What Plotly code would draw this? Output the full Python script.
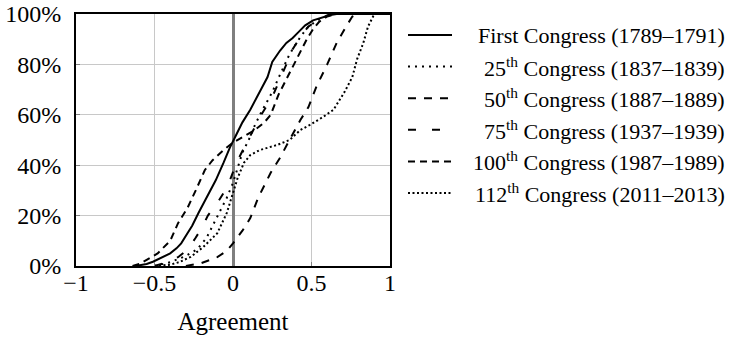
import plotly.graph_objects as go

# ---- data (agreement value, cumulative share in %) ----
first_x = [-0.62, -0.55, -0.51, -0.45, -0.40, -0.36, -0.33, -0.29, -0.26, -0.22, -0.17, -0.11, -0.06, -0.02, 0.02, 0.06, 0.11, 0.17, 0.22, 0.25, 0.30, 0.34, 0.38, 0.42, 0.46, 0.51, 0.56, 0.62, 0.66, 1.0]
first_y = [0, 0.8, 1.7, 3.5, 5, 7, 9, 13, 16, 21, 27, 34, 41, 47, 52, 57, 62, 69, 75, 81, 85.5, 88.5, 90.5, 93, 95.5, 97.5, 98.5, 99.6, 100, 100]

c25_x = [-0.5, -0.4, -0.3, -0.23, -0.17, -0.12, -0.08, -0.04, 0.0, 0.03, 0.06, 0.10, 0.14, 0.18, 0.25, 0.30, 0.36, 0.43, 0.48, 0.55, 0.63, 1.0]
c25_y = [0, 1.5, 4, 6.5, 11, 17, 22, 27, 33, 39, 45, 50, 56, 61, 69, 76, 84, 91, 95, 98, 100, 100]

c50_x = [-0.3, -0.2, -0.1, -0.04, 0.0, 0.06, 0.11, 0.16, 0.24, 0.30, 0.36, 0.43, 0.48, 0.53, 0.60, 0.66, 0.72, 0.76, 0.80, 1.0]
c50_y = [0, 1.2, 3.5, 6, 9, 14, 19, 27, 37, 43, 50, 58, 63, 71, 80, 88.5, 95, 99, 100, 100]

c75_x = [-0.5, -0.42, -0.35, -0.29, -0.24, -0.20, -0.16, -0.10, -0.06, -0.02, 0.03, 0.08, 0.12, 0.18, 0.25, 0.30, 0.34, 0.38, 0.43, 0.48, 0.55, 0.62, 1.0]
c75_y = [0, 1.5, 3.5, 6.5, 11, 15, 20, 25, 29, 34, 42, 48, 53, 60, 67, 74, 80, 86, 91, 95, 98, 100, 100]

c100_x = [-0.64, -0.59, -0.48, -0.40, -0.35, -0.29, -0.23, -0.18, -0.13, -0.06, 0.0, 0.06, 0.14, 0.20, 0.24, 0.29, 0.34, 0.39, 0.43, 0.47, 0.51, 0.55, 0.60, 0.66, 1.0]
c100_y = [0, 1, 5, 10, 17, 23, 31, 38, 42, 46, 49, 51, 54, 57, 60, 68, 74, 80, 85, 90, 94, 97, 99, 100, 100]

c112_x = [-0.5, -0.4, -0.34, -0.27, -0.19, -0.10, -0.04, 0.0, 0.03, 0.07, 0.11, 0.17, 0.28, 0.36, 0.43, 0.49, 0.57, 0.64, 0.71, 0.76, 0.79, 0.83, 0.86, 0.90, 1.0]
c112_y = [0, 0.5, 1.6, 3.6, 7.5, 13, 21, 29, 35, 41, 44, 46, 48, 50, 54, 56, 59, 62, 69, 75, 82, 88.5, 95, 100, 100]

labels = [
    "First Congress (1789–1791)",
    "25<sup>th</sup> Congress (1837–1839)",
    "50<sup>th</sup> Congress (1887–1889)",
    "75<sup>th</sup> Congress (1937–1939)",
    "100<sup>th</sup> Congress (1987–1989)",
    "112<sup>th</sup> Congress (2011–2013)",
]
series_x = [first_x, c25_x, c50_x, c75_x, c100_x, c112_x]
series_y = [first_y, c25_y, c50_y, c75_y, c100_y, c112_y]
dashes = ["solid", "2px,5px", "8px,8px", "8px,16px", "7px,5px", "2px,2.5px"]

x_ticks = [-1, -0.5, 0, 0.5, 1]
y_ticks = [0, 20, 40, 60, 80, 100]
y_ticktext = ["0%", "20%", "40%", "60%", "80%", "100%"]

FONT = "Liberation Serif, serif"
L, R, T, B = 76, 340, 14, 80
W, H = 730, 346
PW, PH = W - L - R, H - T - B

fig = go.Figure()
for xs, ys, d, lab in zip(series_x, series_y, dashes, labels):
    fig.add_trace(go.Scatter(x=xs, y=ys, mode="lines", name=lab,
                             line=dict(color="black", width=2, dash=d),
                             showlegend=False, hoverinfo="skip"))

def px2paper_x(px):
    return (px - L) / PW

def py2paper_y(py):
    return (H - B - py) / PH

# legend: line samples on the left, labels right-aligned
row0, step = 35, 31.6
for i, (lab, d) in enumerate(zip(labels, dashes)):
    py = row0 + step * i
    fig.add_shape(type="line", xref="paper", yref="paper",
                  x0=px2paper_x(408), x1=px2paper_x(452),
                  y0=py2paper_y(py), y1=py2paper_y(py),
                  line=dict(color="black", width=2, dash=d))
    fig.add_annotation(xref="paper", yref="paper", x=px2paper_x(727), y=py2paper_y(py),
                       text=lab, showarrow=False, xanchor="right", yanchor="middle",
                       font=dict(family=FONT, size=22, color="black"))

axis_common = dict(showline=True, linecolor="black", linewidth=1.8, mirror=True,
                   showgrid=True, gridcolor="#c8c8c8", gridwidth=1,
                   ticks="inside", ticklen=4, tickcolor="#808080", automargin=False,
                   tickfont=dict(family=FONT, size=24, color="black"))

fig.update_layout(
    width=W, height=H, margin=dict(l=L, r=R, t=T, b=B),
    paper_bgcolor="white", plot_bgcolor="white",
    font=dict(family=FONT, color="black"),
    xaxis=dict(range=[-1, 1], tickvals=x_ticks, zeroline=True, zerolinecolor="#7f7f7f",
               zerolinewidth=2.5, ticklabelstandoff=-6,
               title=dict(text="Agreement", font=dict(family=FONT, size=25, color="black"), standoff=18),
               **axis_common),
    yaxis=dict(range=[0, 100], tickvals=y_ticks, ticktext=y_ticktext, zeroline=False,
               ticklabelstandoff=8, **axis_common),
)

fig.write_html("out.html")
